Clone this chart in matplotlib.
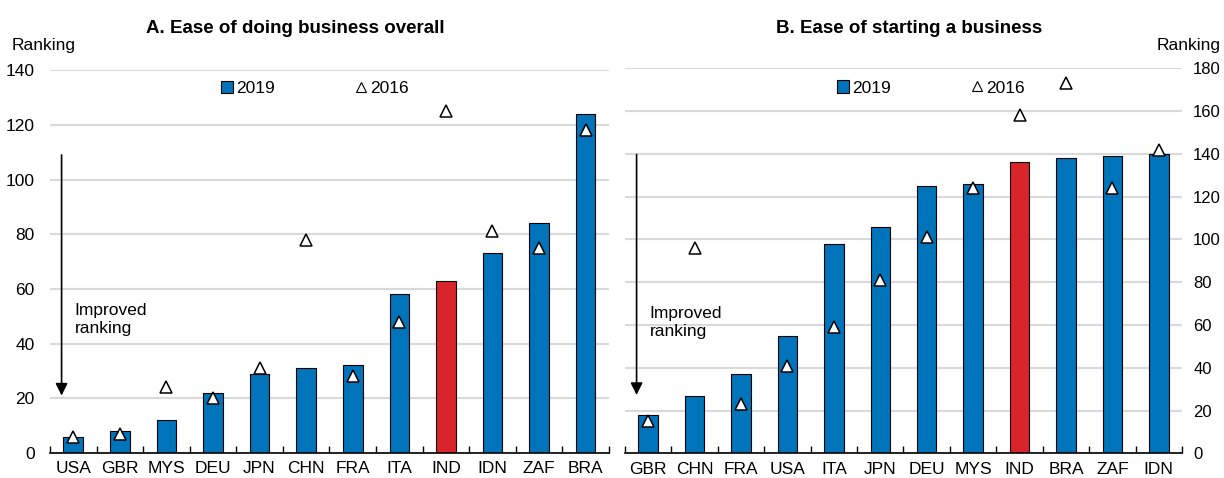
import matplotlib.pyplot as plt
from matplotlib.patches import Patch
from matplotlib.lines import Line2D
import numpy as np

plt.rcParams['font.family'] = ['Liberation Sans Narrow', 'Liberation Sans', 'DejaVu Sans']

# Panel A: ease of doing business overall
left_countries = ['USA', 'GBR', 'MYS', 'DEU', 'JPN', 'CHN', 'FRA', 'ITA', 'IND', 'IDN', 'ZAF', 'BRA']
left_2019 = [6, 8, 12, 22, 29, 31, 32, 58, 63, 73, 84, 124]
left_2016 = [6, 7, 24, 20, 31, 78, 28, 48, 125, 81, 75, 118]

# Panel B: ease of starting a business
right_countries = ['GBR', 'CHN', 'FRA', 'USA', 'ITA', 'JPN', 'DEU', 'MYS', 'IND', 'BRA', 'ZAF', 'IDN']
right_2019 = [18, 27, 37, 55, 98, 106, 125, 126, 136, 138, 139, 140]
right_2016 = [15, 96, 23, 41, 59, 81, 101, 124, 158, 173, 124, 142]

blue = '#0074BB'
red = '#D9242C'
grid = '#D9D9D9'

fig = plt.figure(figsize=(12.24, 4.78), dpi=100)
ax1 = fig.add_axes([0.0408, 0.0523, 0.4567, 0.801])
ax2 = fig.add_axes([0.5106, 0.0516, 0.4551, 0.8055])


def draw(ax, countries, v2019, v2016, ymax, arrow_top, arrow_bot, text_y, leg_xy):
    x = np.arange(len(countries))
    colors = [red if c == 'IND' else blue for c in countries]
    ax.bar(x, v2019, width=0.42, color=colors, edgecolor='black', linewidth=0.8, zorder=2)
    ax.plot(x, v2016, linestyle='none', marker='^', markersize=9, markerfacecolor='white',
            markeredgecolor='black', markeredgewidth=1.1, zorder=3)
    ax.set_xlim(-0.5, len(countries) - 0.5)
    ax.set_ylim(0, ymax)
    ax.set_yticks(np.arange(0, ymax + 1, 20))
    ax.yaxis.grid(True, color=grid, linewidth=1.5, zorder=0)
    ax.set_axisbelow(True)
    ax.set_xticks(x)
    ax.set_xticklabels(countries, fontsize=12.5)
    ax.set_xticks(np.arange(-0.5, len(countries)), minor=True)
    ax.tick_params(axis='x', which='major', length=0, pad=6)
    ax.tick_params(axis='x', which='minor', direction='in', length=5, width=1, color='black')
    ax.tick_params(axis='y', length=0, labelsize=12.5, pad=11)
    for s in ['top', 'left', 'right']:
        ax.spines[s].set_visible(False)
    ax.spines['bottom'].set_linewidth(1.2)
    ax.annotate('', xy=(-0.25, arrow_bot), xytext=(-0.25, arrow_top),
                arrowprops=dict(arrowstyle='-|>', color='black', lw=1.2, mutation_scale=18))
    ax.text(0.03, text_y, 'Improved\nranking', fontsize=12.5, va='top', ha='left', linespacing=1.3)
    handles = [Patch(facecolor=blue, edgecolor='black', linewidth=0.8),
               Line2D([], [], linestyle='none', marker='^', markersize=7,
                      markerfacecolor='white', markeredgecolor='black', markeredgewidth=0.8)]
    ax.legend(handles, ['2019', '2016'], ncol=2, loc='center', bbox_to_anchor=leg_xy,
              frameon=False, fontsize=12.5, columnspacing=4.6, handlelength=0.7,
              handletextpad=0.2, handleheight=0.7)


draw(ax1, left_countries, left_2019, left_2016, 140, 110, 20, 55, (0.474, 0.953))
draw(ax2, right_countries, right_2019, right_2016, 180, 141, 26, 69, (0.549, 0.949))
ax2.yaxis.tick_right()
ax2.tick_params(axis='y', length=0, labelsize=12, pad=8)

fig.text(0.241, 0.941, 'A. Ease of doing business overall', fontsize=13.5, fontweight='bold',
         ha='center', va='center')
fig.text(0.743, 0.941, 'B. Ease of starting a business', fontsize=13.5, fontweight='bold',
         ha='center', va='center')
fig.text(0.0098, 0.904, 'Ranking', fontsize=12.5, ha='left', va='center')
fig.text(0.997, 0.904, 'Ranking', fontsize=12.5, ha='right', va='center')

fig.savefig('out.png', dpi=100)
